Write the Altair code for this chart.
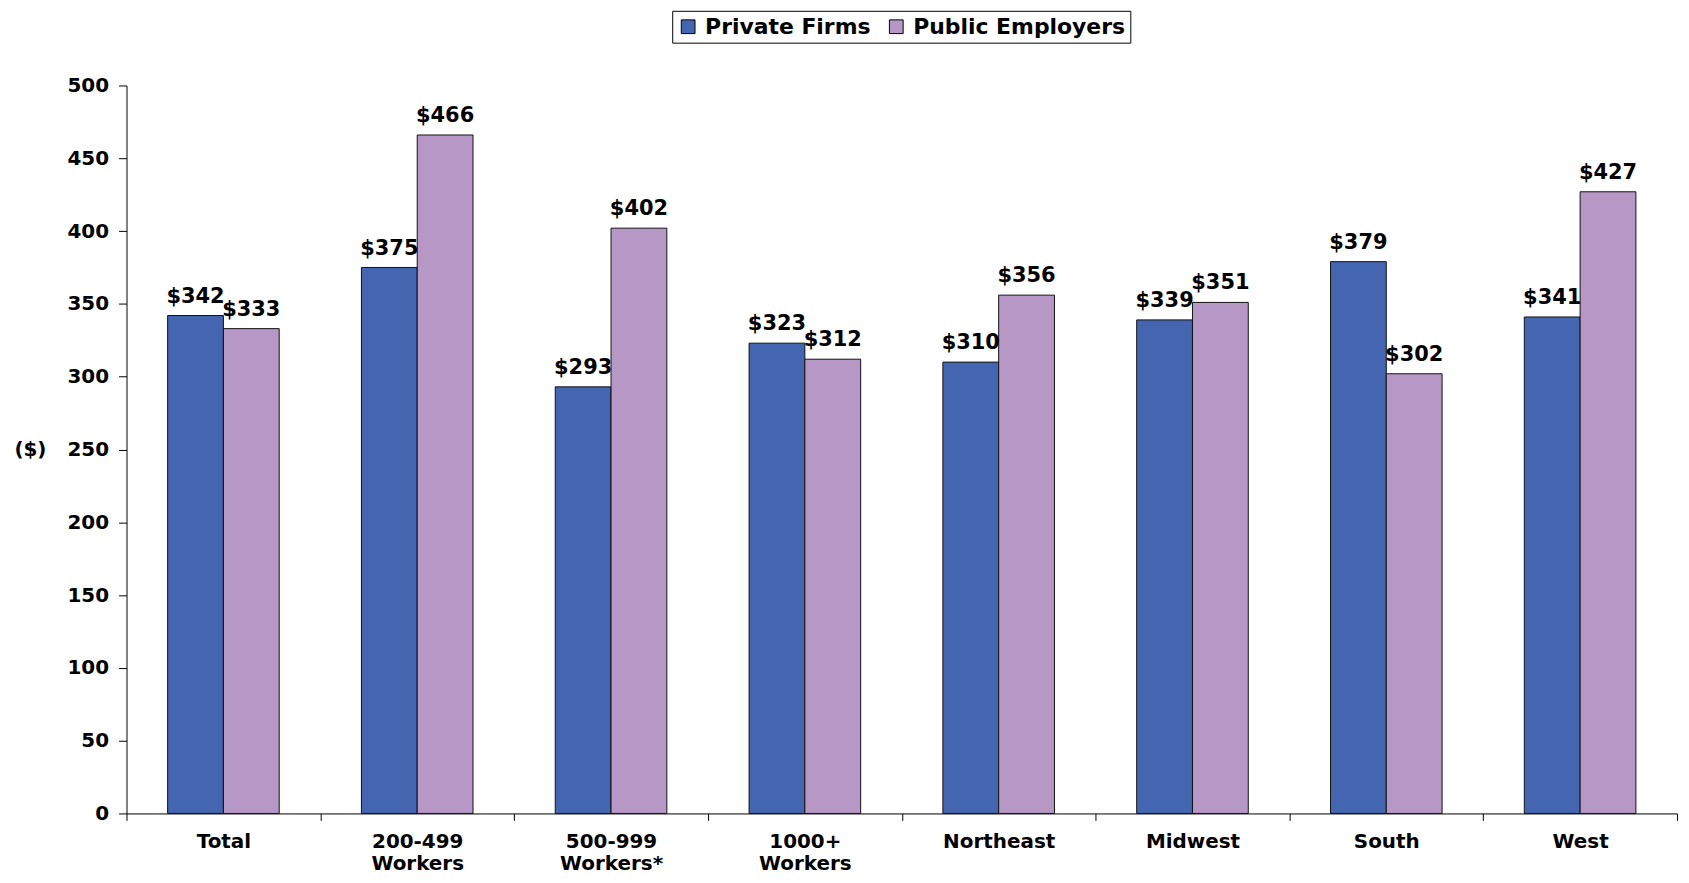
import altair as alt
import pandas as pd

categories = ["Total", "200-499|Workers", "500-999|Workers*", "1000+|Workers",
              "Northeast", "Midwest", "South", "West"]
series = ["Private Firms", "Public Employers"]
private_vals = [342, 375, 293, 323, 310, 339, 379, 341]
public_vals = [333, 466, 402, 312, 356, 351, 302, 427]
colors = ["#4465AF", "#B797C6"]

rows = []
for c, p, q in zip(categories, private_vals, public_vals):
    rows.append({"cat": c, "series": series[0], "value": p, "label": f"${p}"})
    rows.append({"cat": c, "series": series[1], "value": q, "label": f"${q}"})
df = pd.DataFrame(rows)

FONT = "DejaVu Sans"

x = alt.X("cat:N", sort=categories, title=None,
          scale=alt.Scale(paddingInner=0, paddingOuter=0),
          axis=alt.Axis(labelAngle=0, tickBand="extent", labelExpr="split(datum.label, '|')",
                        labelFont=FONT, labelFontWeight="bold", labelFontSize=20,
                        labelColor="black", labelLineHeight=22, labelPadding=11,
                        tickSize=7, tickColor="black", domainColor="black",
                        labelBaseline="top", grid=False))
xo = alt.XOffset("series:N", sort=series,
                 scale=alt.Scale(paddingInner=0, paddingOuter=0.737))
y = alt.Y("value:Q", title="($)",
          scale=alt.Scale(domain=[0, 500]),
          axis=alt.Axis(values=list(range(0, 501, 50)), grid=False,
                        labelFont=FONT, labelFontWeight="bold", labelFontSize=20,
                        labelColor="black", labelPadding=10, tickSize=8,
                        tickColor="black", domainColor="black",
                        titleAngle=0, titleX=-97, titleY=366, titleAlign="center",
                        titleBaseline="middle", titleFont=FONT, titleFontSize=20,
                        titleFontWeight="bold", titleColor="black"))

bars = alt.Chart(df).mark_bar(stroke="#111111", strokeWidth=1).encode(
    x=x, xOffset=xo, y=y,
    color=alt.Color("series:N", sort=series,
                    scale=alt.Scale(domain=series, range=colors),
                    legend=alt.Legend(title=None, orient="none", direction="horizontal",
                                      legendX=548, legendY=-75,
                                      labelFont=FONT, labelFontWeight="bold",
                                      labelFontSize=22, labelColor="black",
                                      symbolType="square", symbolSize=190,
                                      symbolStrokeColor="black", symbolStrokeWidth=1,
                                      symbolOpacity=1,
                                      strokeColor="black", padding=5,
                                      columnPadding=14, labelOffset=6, labelLimit=400)),
)

texts = alt.Chart(df).mark_text(font=FONT, fontWeight="bold", fontSize=21,
                                baseline="alphabetic", dy=-13, color="black").encode(
    x=x, xOffset=xo, y=y, text="label:N"
)

chart = (bars + texts).properties(
    width=1557, height=731,
    background="white",
    autosize=alt.AutoSizeParams(type="none"),
    padding={"left": 119, "top": 76, "right": 4, "bottom": 60},
).configure_view(strokeWidth=0, stroke="transparent").configure_axis(grid=False)

chart.save("out.html", embed_options={"renderer": "svg", "actions": False})
